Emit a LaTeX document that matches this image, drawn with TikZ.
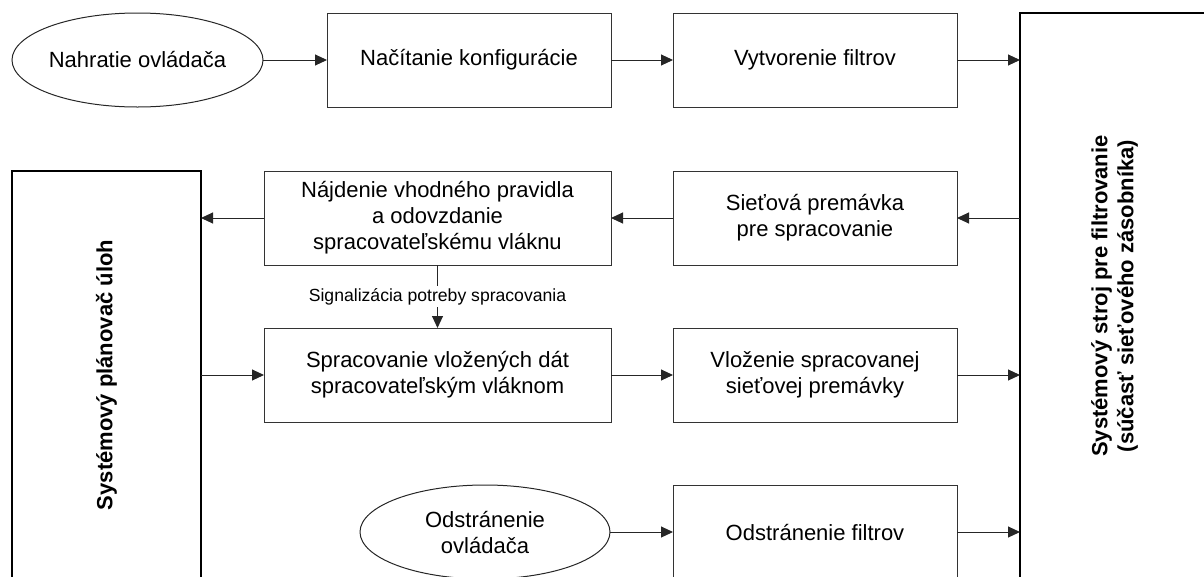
\documentclass[tikz,border=0pt]{standalone}
\usepackage{fontspec}
\setmainfont{Liberation Sans}
\usetikzlibrary{shapes.geometric,arrows.meta}
\begin{document}
\begin{tikzpicture}[x=1pt,y=-1pt,
  every node/.style={inner sep=0pt, outer sep=0pt, font=\fontsize{22}{26}\selectfont, align=center},
  stepbox/.style={draw=black!80, line width=1pt, minimum width=284pt, minimum height=94pt},
  widebox/.style={stepbox, minimum width=347pt},
  oval/.style={ellipse, draw=black!85, line width=1pt, minimum width=251pt, minimum height=94pt},
  sysbox/.style={draw=black, line width=2.5pt, minimum width=189pt, text width=120pt,
    font=\fontsize{22}{26}\selectfont\bfseries},
  flow/.style={draw=black!85, line width=1pt, -{Triangle[length=12pt,width=11pt]}}
]
\useasboundingbox (0,0) rectangle (1204,576);
\clip (0,0) rectangle (1204,576);

% system-level blocks on both sides
\node[sysbox, minimum height=566pt] (sys) at (1114.5,296) {};
\node[rotate=90, font=\fontsize{22}{26}\selectfont\bfseries] at (sys.center)
  {Systémový stroj pre filtrovanie\\(súčasť sieťového zásobníka)};
\node[sysbox, minimum height=408pt] (sched) at (106.5,375) {};
\node[rotate=90, font=\fontsize{22}{26}\selectfont\bfseries] at (sched.center)
  {Systémový plánovač úloh};

% loading the driver
\node[oval] (load) at (137.5,60) {Nahratie ovládača};
\node[stepbox] (conf) at (469,60) {Načítanie konfigurácie};
\node[stepbox] (filt) at (815,60) {Vytvorenie filtrov};

% traffic processing
\node[widebox] (rule) at (437.5,218) {Nájdenie vhodného pravidla\\a odovzdanie\\spracovateľskému vláknu};
\node[stepbox] (traffic) at (815,218) {Sieťová premávka\\pre spracovanie};
\node[widebox] (work) at (437.5,375) {Spracovanie vložených dát\\spracovateľským vláknom};
\node[stepbox] (inject) at (815,375) {Vloženie spracovanej\\sieťovej premávky};

% unloading the driver
\node[oval, minimum width=250pt] (unload) at (485,532) {Odstránenie\\ovládača};
\node[stepbox] (remove) at (815,532) {Odstránenie filtrov};

% connectors
\draw[flow] (load) -- (conf);
\draw[flow] (conf) -- (filt);
\draw[flow] (filt.east) -- (sys.west |- filt.east);
\draw[flow] (sys.west |- traffic.east) -- (traffic.east);
\draw[flow] (traffic) -- (rule);
\draw[flow] (rule.west) -- (sched.east |- rule.west);
\draw[flow] (rule) -- node[fill=white, inner sep=2pt, font=\fontsize{17.6}{20}\selectfont] (sig) {Signalizácia potreby spracovania} (work);
\draw[flow] (sched.east |- work.west) -- (work.west);
\draw[flow] (work) -- (inject);
\draw[flow] (inject.east) -- (sys.west |- inject.east);
\draw[flow] (unload) -- (remove);
\draw[flow] (remove.east) -- (sys.west |- remove.east);
\end{tikzpicture}
\end{document}
